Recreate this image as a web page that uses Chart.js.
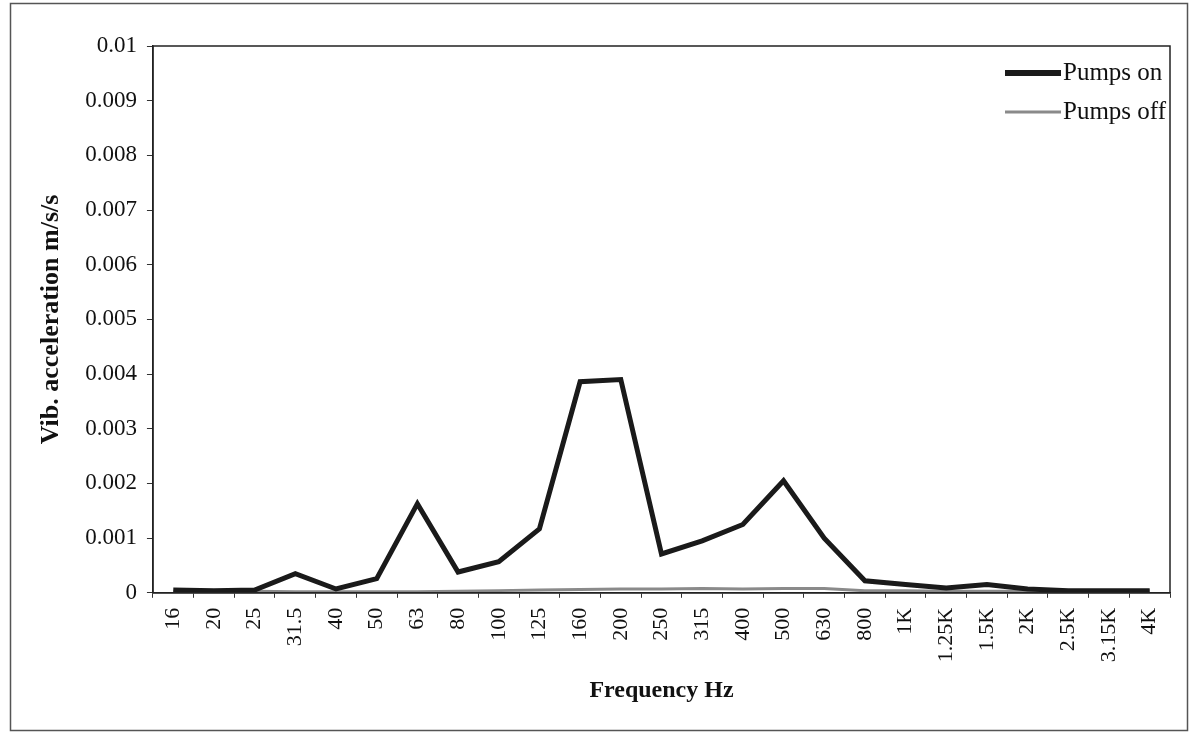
<!DOCTYPE html>
<html>
<head>
<meta charset="utf-8">
<script src="https://cdn.jsdelivr.net/npm/chart.js@4.4.1/dist/chart.umd.min.js"></script>
<style>
html,body{margin:0;padding:0;background:#fff;}
#wrap{position:absolute;left:0;top:0;width:1190px;height:733px;}
</style>
</head>
<body>
<div id="wrap"><canvas id="c" width="1190" height="733"></canvas></div>
<script>
const categories = ["16","20","25","31.5","40","50","63","80","100","125","160","200","250","315","400","500","630","800","1K","1.25K","1.5K","2K","2.5K","3.15K","4K"];
const pumpsOn = [0.00005,0.00004,0.00005,0.00035,0.00007,0.00026,0.00163,0.00038,0.00057,0.00117,0.00386,0.0039,0.00071,0.00095,0.00125,0.00205,0.001,0.00022,0.00015,0.00009,0.00015,0.00007,0.00004,0.00004,0.00004];
const pumpsOff = [0.00003,0.00003,0.00003,0.00002,0.00002,0.00002,0.00002,0.00003,0.00004,0.00005,0.00006,0.00007,0.00007,0.00008,0.00007,0.00008,0.00008,0.00004,0.00004,0.00003,0.00003,0.00003,0.00003,0.00003,0.00004];
const yTicks = [0,0.001,0.002,0.003,0.004,0.005,0.006,0.007,0.008,0.009,0.01];
const seriesNames = ["Pumps on","Pumps off"];

const FONT = "'Liberation Serif','Times New Roman',serif";

const framePlugin = {
  id:'frame',
  beforeDraw(chart){
    const ctx = chart.ctx;
    ctx.save();
    ctx.fillStyle='#fff';
    ctx.fillRect(0,0,chart.width,chart.height);
    ctx.strokeStyle='#555';
    ctx.lineWidth=1.5;
    ctx.strokeRect(10.5,3.5,1177,727);
    ctx.restore();
  },
  afterDraw(chart){
    const ctx = chart.ctx, a = chart.chartArea;
    ctx.save();
    ctx.strokeStyle='#222';
    ctx.lineWidth=1.5;
    ctx.strokeRect(a.left, a.top, a.right-a.left, a.bottom-a.top);
    // legend
    const ds = chart.data.datasets;
    ctx.font = "25px " + FONT;
    ctx.textBaseline='middle';
    ctx.textAlign='left';
    const lx = 1005, ly = 73;
    ds.forEach((d,i)=>{
      const y = ly + i*39;
      ctx.strokeStyle = d.borderColor;
      ctx.lineWidth = i===0 ? 6 : 3;
      ctx.beginPath(); ctx.moveTo(lx, y); ctx.lineTo(lx+56, y); ctx.stroke();
      ctx.fillStyle='#111';
      ctx.fillText(d.label, lx+58, y);
    });
    ctx.restore();
  }
};

new Chart(document.getElementById('c'), {
  type:'line',
  data:{
    labels: categories,
    datasets:[
      {label:seriesNames[0], data:pumpsOn, borderColor:'#1a1a1a', borderWidth:5, pointRadius:0, tension:0, order:1},
      {label:seriesNames[1], data:pumpsOff, borderColor:'#8a8a8a', borderWidth:3, pointRadius:0, tension:0, order:2}
    ]
  },
  options:{
    responsive:false,
    animation:false,
    devicePixelRatio:1,
    layout:{padding:{left:10,right:20,top:46,bottom:28}},
    plugins:{legend:{display:false}, tooltip:{enabled:false}},
    scales:{
      x:{
        offset:true,
        grid:{display:true, drawOnChartArea:false, offset:true, tickLength:5, color:'#333'},
        border:{display:true,color:'#222',width:1.5},
        ticks:{color:'#111', font:{family:FONT,size:22}, maxRotation:90, minRotation:90, autoSkip:false, padding:10},
        title:{display:true, text:'Frequency Hz', color:'#111', font:{family:FONT,size:24,weight:'bold'}, padding:{top:4,bottom:0}}
      },
      y:{
        min:0, max:0.01,
        afterBuildTicks(axis){ axis.ticks = yTicks.map(v=>({value:v})); },
        grid:{display:true, drawOnChartArea:false, tickLength:6, color:'#333'},
        border:{display:true,color:'#222',width:1.5},
        ticks:{color:'#111', font:{family:FONT,size:23}, padding:10, callback:v=>String(v)},
        title:{display:true, text:'Vib. acceleration m/s/s', color:'#111', font:{family:FONT,size:26,weight:'bold'}, padding:{top:26,bottom:8}}
      }
    }
  },
  plugins:[framePlugin]
});
</script>
</body>
</html>
